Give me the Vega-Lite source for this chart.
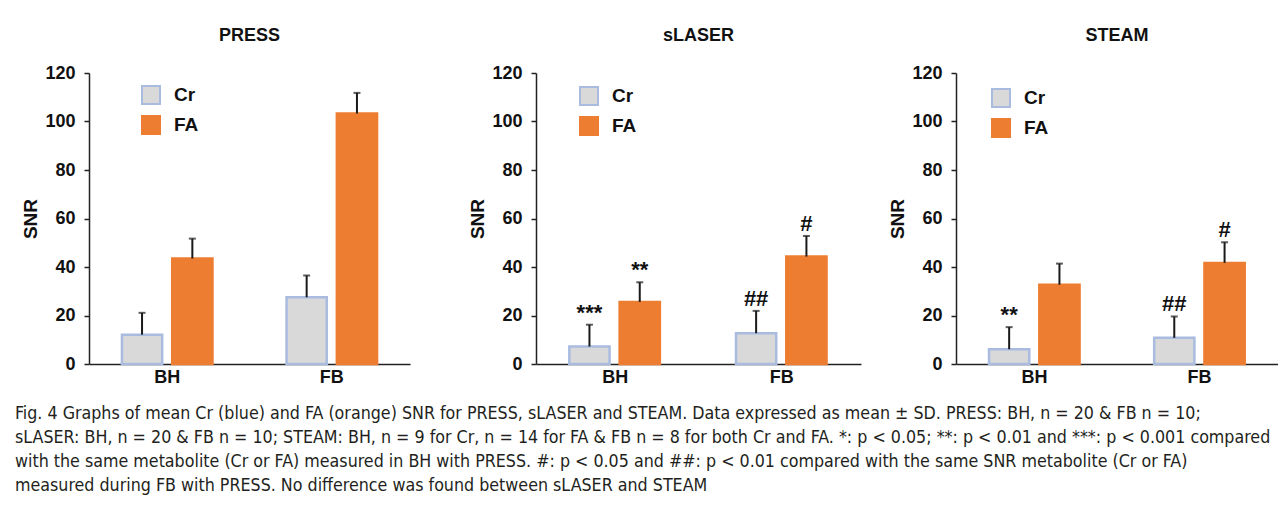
{
  "$schema": "https://vega.github.io/schema/vega-lite/v6.json",
  "padding": {"left": 14, "top": 27, "right": 0, "bottom": 0},
  "background": "white",
  "datasets": {
    "snr": [
      {"panel": "PRESS", "cond": "BH", "metab": "Cr", "mean": 12.1, "upper": 21.1, "sig": ""},
      {"panel": "PRESS", "cond": "BH", "metab": "FA", "mean": 43.5, "upper": 51.7, "sig": ""},
      {"panel": "PRESS", "cond": "FB", "metab": "Cr", "mean": 27.5, "upper": 36.5, "sig": ""},
      {"panel": "PRESS", "cond": "FB", "metab": "FA", "mean": 103.3, "upper": 111.8, "sig": ""},
      {"panel": "sLASER", "cond": "BH", "metab": "Cr", "mean": 7.2, "upper": 16.2, "sig": "***"},
      {"panel": "sLASER", "cond": "BH", "metab": "FA", "mean": 25.6, "upper": 33.7, "sig": "**"},
      {"panel": "sLASER", "cond": "FB", "metab": "Cr", "mean": 12.7, "upper": 21.9, "sig": "##"},
      {"panel": "sLASER", "cond": "FB", "metab": "FA", "mean": 44.3, "upper": 52.8, "sig": "#"},
      {"panel": "STEAM", "cond": "BH", "metab": "Cr", "mean": 6.1, "upper": 15.2, "sig": "**"},
      {"panel": "STEAM", "cond": "BH", "metab": "FA", "mean": 32.7, "upper": 41.4, "sig": ""},
      {"panel": "STEAM", "cond": "FB", "metab": "Cr", "mean": 10.8, "upper": 19.6, "sig": "##"},
      {"panel": "STEAM", "cond": "FB", "metab": "FA", "mean": 41.7, "upper": 50.2, "sig": "#"}
    ]
  },
  "title": {
    "text": [
      "Fig. 4  Graphs of mean Cr (blue) and FA (orange) SNR for PRESS, sLASER and STEAM. Data expressed as mean ± SD. PRESS: BH, n = 20 & FB n = 10;",
      "sLASER: BH, n = 20 & FB n = 10; STEAM: BH, n = 9 for Cr, n = 14 for FA & FB n = 8 for both Cr and FA. *: p < 0.05; **: p < 0.01 and ***: p < 0.001 compared",
      "with the same metabolite (Cr or FA) measured in BH with PRESS. #: p < 0.05 and ##: p < 0.01 compared with the same SNR metabolite (Cr or FA)",
      "measured during FB with PRESS. No difference was found between sLASER and STEAM"
    ],
    "orient": "bottom",
    "anchor": "start",
    "font": "DejaVu Sans Condensed",
    "fontSize": 17.7,
    "fontWeight": "normal",
    "lineHeight": 24,
    "offset": 19,
    "dx": -7,
    "color": "#231f20"
  },
  "spacing": 58,
  "resolve": {"scale": {"x": "independent", "y": "independent"}, "legend": {"fill": "independent", "stroke": "independent"}},
  "hconcat": [
    {
      "width": 321, "height": 291,
      "title": {"text": "PRESS"},
      "data": {"name": "snr"},
      "transform": [{"filter": "datum.panel === 'PRESS'"}],
      "encoding": {
        "x": {"field": "cond", "type": "nominal", "title": null, "scale": {"paddingInner": 0.45, "paddingOuter": 0.2}},
        "xOffset": {"field": "metab", "type": "nominal", "scale": {"paddingInner": 0.2, "paddingOuter": 0}}
      },
      "layer": [
        {
          "mark": {"type": "bar", "strokeWidth": 2.5},
          "encoding": {
            "y": {"field": "mean", "type": "quantitative", "title": "SNR", "scale": {"domain": [0, 120], "nice": false}, "axis": {"values": [0, 20, 40, 60, 80, 100, 120]}},
            "fill": {"field": "metab", "type": "nominal", "scale": {"domain": ["Cr", "FA"], "range": ["#D9D9D9", "#ED7D31"]}, "legend": {"orient": "none", "legendX": 52, "legendY": 12}},
            "stroke": {"field": "metab", "type": "nominal", "scale": {"domain": ["Cr", "FA"], "range": ["#A9BCE0", "#ED7D31"]}, "legend": {"orient": "none", "legendX": 52, "legendY": 12}}
          }
        },
        {
          "mark": {"type": "rule", "color": "#1a1a1a", "strokeWidth": 2},
          "encoding": {"y": {"field": "mean", "type": "quantitative"}, "y2": {"field": "upper"}}
        },
        {
          "mark": {"type": "tick", "color": "#1a1a1a", "thickness": 2, "size": 7},
          "encoding": {"y": {"field": "upper", "type": "quantitative"}}
        }
      ]
    },
    {
      "spacing": 27,
      "resolve": {"scale": {"x": "independent", "y": "independent"}, "legend": {"fill": "independent", "stroke": "independent"}},
      "hconcat": [
        {
          "width": 325, "height": 291,
          "title": {"text": "sLASER"},
          "data": {"name": "snr"},
          "transform": [{"filter": "datum.panel === 'sLASER'"}],
          "encoding": {
            "x": {"field": "cond", "type": "nominal", "title": null, "scale": {"paddingInner": 0.45, "paddingOuter": 0.2}},
            "xOffset": {"field": "metab", "type": "nominal", "scale": {"paddingInner": 0.2, "paddingOuter": 0}}
          },
          "layer": [
            {
              "mark": {"type": "bar", "strokeWidth": 2.5},
              "encoding": {
                "y": {"field": "mean", "type": "quantitative", "title": "SNR", "scale": {"domain": [0, 120], "nice": false}, "axis": {"values": [0, 20, 40, 60, 80, 100, 120]}},
                "fill": {"field": "metab", "type": "nominal", "scale": {"domain": ["Cr", "FA"], "range": ["#D9D9D9", "#ED7D31"]}, "legend": {"orient": "none", "legendX": 43, "legendY": 13}},
                "stroke": {"field": "metab", "type": "nominal", "scale": {"domain": ["Cr", "FA"], "range": ["#A9BCE0", "#ED7D31"]}, "legend": {"orient": "none", "legendX": 43, "legendY": 13}}
              }
            },
            {
              "mark": {"type": "rule", "color": "#1a1a1a", "strokeWidth": 2},
              "encoding": {"y": {"field": "mean", "type": "quantitative"}, "y2": {"field": "upper"}}
            },
            {
              "mark": {"type": "tick", "color": "#1a1a1a", "thickness": 2, "size": 7},
              "encoding": {"y": {"field": "upper", "type": "quantitative"}}
            },
            {
              "mark": {"type": "text", "dy": -5, "baseline": "alphabetic", "fontSize": 22, "fontWeight": "bold", "color": "#111"},
              "encoding": {"y": {"field": "upper", "type": "quantitative"}, "text": {"field": "sig"}}
            }
          ]
        },
        {
          "width": 322, "height": 291,
          "title": {"text": "STEAM"},
          "data": {"name": "snr"},
          "transform": [{"filter": "datum.panel === 'STEAM'"}],
          "encoding": {
            "x": {"field": "cond", "type": "nominal", "title": null, "scale": {"paddingInner": 0.45, "paddingOuter": 0.2}},
            "xOffset": {"field": "metab", "type": "nominal", "scale": {"paddingInner": 0.2, "paddingOuter": 0}}
          },
          "layer": [
            {
              "mark": {"type": "bar", "strokeWidth": 2.5},
              "encoding": {
                "y": {"field": "mean", "type": "quantitative", "title": "SNR", "scale": {"domain": [0, 120], "nice": false}, "axis": {"values": [0, 20, 40, 60, 80, 100, 120]}},
                "fill": {"field": "metab", "type": "nominal", "scale": {"domain": ["Cr", "FA"], "range": ["#D9D9D9", "#ED7D31"]}, "legend": {"orient": "none", "legendX": 35, "legendY": 15}},
                "stroke": {"field": "metab", "type": "nominal", "scale": {"domain": ["Cr", "FA"], "range": ["#A9BCE0", "#ED7D31"]}, "legend": {"orient": "none", "legendX": 35, "legendY": 15}}
              }
            },
            {
              "mark": {"type": "rule", "color": "#1a1a1a", "strokeWidth": 2},
              "encoding": {"y": {"field": "mean", "type": "quantitative"}, "y2": {"field": "upper"}}
            },
            {
              "mark": {"type": "tick", "color": "#1a1a1a", "thickness": 2, "size": 7},
              "encoding": {"y": {"field": "upper", "type": "quantitative"}}
            },
            {
              "mark": {"type": "text", "dy": -5, "baseline": "alphabetic", "fontSize": 22, "fontWeight": "bold", "color": "#111"},
              "encoding": {"y": {"field": "upper", "type": "quantitative"}, "text": {"field": "sig"}}
            }
          ]
        }
      ]
    }
  ],
  "config": {
    "font": "Liberation Sans",
    "view": {"stroke": null},
    "title": {"fontSize": 18, "fontWeight": "bold", "color": "#111", "offset": 19, "anchor": "middle"},
    "axis": {
      "grid": false,
      "labelFontSize": 18,
      "labelFontWeight": "bold",
      "labelColor": "#111",
      "titleFontSize": 19,
      "titleFontWeight": "bold",
      "titleColor": "#111",
      "domainColor": "#222",
      "domainWidth": 1.5,
      "tickColor": "#222",
      "tickWidth": 1.5
    },
    "axisX": {"ticks": false, "labelAngle": 0, "labelPadding": 4},
    "axisY": {"tickSize": 5, "labelPadding": 9, "titlePadding": 4},
    "legend": {
      "title": null,
      "labelFontSize": 19,
      "labelFontWeight": "bold",
      "labelColor": "#111",
      "symbolType": "square",
      "symbolSize": 324,
      "symbolStrokeWidth": 2,
      "labelOffset": 13,
      "rowPadding": 4
    }
  }
}
